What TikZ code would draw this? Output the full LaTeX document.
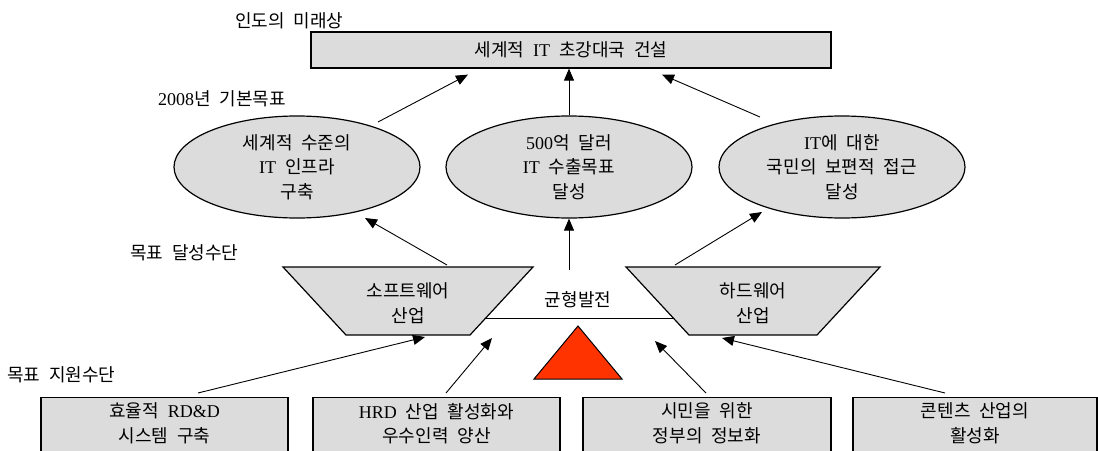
\documentclass[tikz,border=0pt]{standalone}
\usepackage{fontspec}
\setmainfont{Noto Sans CJK KR}[WordSpace=2.2]
\newfontfamily\latfont{Liberation Serif}
\usetikzlibrary{shapes.geometric,arrows.meta,calc}
\newcommand\latn[1]{{\latfont #1}}
\definecolor{boxgray}{HTML}{DCDCDC}
\definecolor{balred}{HTML}{FF3300}
\begin{document}
\begin{tikzpicture}[x=1pt,y=-1pt,
  every node/.style={font=\fontsize{18}{24.5}\selectfont, inner sep=0pt},
  shp/.style={draw=black, line width=1.2pt, fill=boxgray},
  conn/.style={line width=0.9pt, -{Triangle[length=12pt,width=10pt]}},
  ell/.style={shp, ellipse, minimum width=246pt, minimum height=102pt, align=center},
  bbox/.style={shp, minimum height=62pt, anchor=north},
  lab/.style={anchor=west}]
\clip (0,0) rectangle (1098,450);
\fill[white] (0,0) rectangle (1098,450);

% labels
\node[lab] (L1) at (235,21) {인도의 미래상};
\node[lab] (L2) at (158,99) {\latn{2008}년 기본목표};
\node[lab] (L3) at (130,253) {목표 달성수단};
\node[lab] (L4) at (7,375) {목표 지원수단};

% top box
\node[shp, minimum width=520pt, minimum height=36pt] (T) at (571,50) {세계적 \latn{IT} 초강대국 건설};

% ellipses
\node[ell] (E1) at (297,167) {세계적 수준의\\\latn{IT} 인프라\\구축};
\node[ell] (E2) at (569,167) {\latn{500}억 달러\\\latn{IT} 수출목표\\달성};
\node[ell] (E3) at (842,167) {\latn{IT}에 대한\\국민의 보편적 접근\\달성};

% trapezoids
\coordinate (Sc) at (408,301);
\coordinate (Hc) at (753,301);
\draw[shp] ($(Sc)+(-125,-34)$) -- ($(Sc)+(125,-34)$) -- ($(Sc)+(62,34)$) -- ($(Sc)+(-62,34)$) -- cycle;
\draw[shp] ($(Hc)+(-127,-34)$) -- ($(Hc)+(127,-34)$) -- ($(Hc)+(64,34)$) -- ($(Hc)+(-64,34)$) -- cycle;
\node[align=center] (S) at ($(Sc)+(0,2)$) {소프트웨어\\산업};
\node[align=center] (H) at ($(Hc)+(0,2)$) {하드웨어\\산업};

% balance
\draw[line width=0.9pt] ($(Sc)+(78,17)$) -- ($(Hc)+(-80,17)$);
\node (B) at (578,300) {균형발전};
\draw[line width=1pt, fill=balred] (578,326) -- (622,379) -- (534,379) -- cycle;

% bottom boxes
\node[bbox, minimum width=247pt] (b1) at (164.5,397) {};
\node[bbox, minimum width=247pt] (b2) at (436.5,397) {};
\node[bbox, minimum width=248pt] (b3) at (707,397) {};
\node[bbox, minimum width=244pt] (b4) at (975,397) {};
\node[align=center] (t1) at (164.5,423.5) {효율적 \latn{RD\&D}\\시스템 구축};
\node[align=center] (t2) at (436.5,423.5) {\latn{HRD} 산업 활성화와\\우수인력 양산};
\node[align=center] (t3) at (707,423.5) {시민을 위한\\정부의 정보화};
\node[align=center] (t4) at (975,423.5) {콘텐츠 산업의\\활성화};

% connectors
\draw[conn] ($(E1)+(81,-45)$) -- ($(T.south)+(-103,6)$);
\draw[conn] (E2.north) -- (E2.north |- T.south);
\draw[conn] ($(E3)+(-82,-50)$) -- ($(T.south)+(91,6)$);
\draw[conn] ($(Sc)+(39,-36)$) -- ($(E1)+(68,51)$);
\draw[conn] ($(B)+(-9,-30)$) -- (E2.south);
\draw[conn] ($(Hc)+(-78,-36)$) -- ($(E3)+(-80,45)$);
\draw[conn] ($(b1.north)+(33.5,-4)$) -- ($(Sc)+(17,36)$);
\draw[conn] ($(b2.north)+(9.5,-4)$) -- ($(Sc)+(84,37)$);
\draw[conn] ($(b3.north)+(-1,-4)$) -- ($(Hc)+(-98,40)$);
\draw[conn] ($(b4.north)+(-30,-4)$) -- ($(Hc)+(-31,37)$);
\end{tikzpicture}
\end{document}
